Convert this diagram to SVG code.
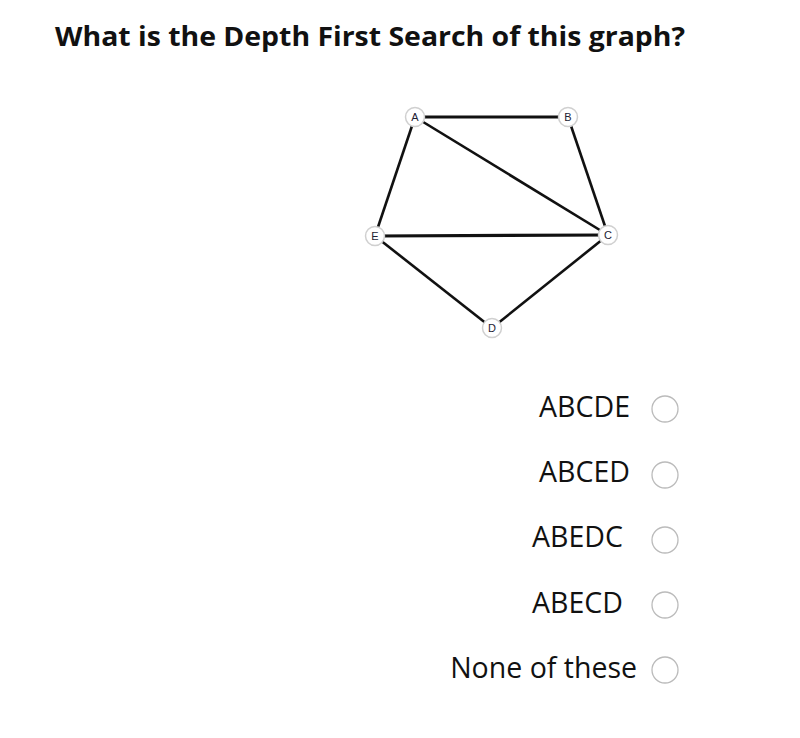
<svg xmlns="http://www.w3.org/2000/svg" width="800" height="738" viewBox="0 0 800 738">
<style>
.title{font-family:"Open Sans","Noto Sans",sans-serif;font-weight:bold;font-size:26px;fill:#111}
.opt{font-family:"Open Sans","Noto Sans",sans-serif;font-size:28.5px;fill:#111;text-anchor:end}
.edge{stroke:#111;stroke-width:2.6;fill:none}
.thick{stroke-width:3.2}
.node circle{fill:#fff;stroke:#d0d0d0;stroke-width:1.5}
.node text{font-family:"Liberation Sans","DejaVu Sans",sans-serif;font-size:11px;fill:#223;text-anchor:middle}
.radio{fill:#fff;stroke:#bbb;stroke-width:1.3}
</style>
<rect width="800" height="738" fill="#fff"/>
<text class="title" x="55" y="46" textLength="630" lengthAdjust="spacingAndGlyphs">What is the Depth First Search of this graph?</text>
<g id="connectors">
<line class="edge thick" x1="415" y1="117" x2="568" y2="117"/>
<line class="edge" x1="415" y1="117" x2="608" y2="235"/>
<line class="edge" x1="415" y1="117" x2="375" y2="236"/>
<line class="edge" x1="568" y1="117" x2="608" y2="235"/>
<line class="edge thick" x1="375" y1="236" x2="608" y2="235"/>
<line class="edge" x1="375" y1="236" x2="492" y2="328"/>
<line class="edge" x1="608" y1="235" x2="492" y2="328"/>
</g>
<g id="node-A" class="node"><circle cx="415" cy="117" r="9.5"/><text x="415" y="121">A</text></g>
<g id="node-B" class="node"><circle cx="568" cy="117" r="9.5"/><text x="568" y="121">B</text></g>
<g id="node-C" class="node"><circle cx="608" cy="235" r="9.5"/><text x="608" y="239">C</text></g>
<g id="node-E" class="node"><circle cx="375" cy="236" r="9.5"/><text x="375" y="240">E</text></g>
<g id="node-D" class="node"><circle cx="492" cy="328" r="9.5"/><text x="492" y="332">D</text></g>
<g id="options">
<text class="opt" x="630" y="417">ABCDE</text>
<circle class="radio" cx="665" cy="409" r="13"/>
<text class="opt" x="630" y="482">ABCED</text>
<circle class="radio" cx="665" cy="475" r="13"/>
<text class="opt" x="623" y="547">ABEDC</text>
<circle class="radio" cx="665" cy="540" r="13"/>
<text class="opt" x="623" y="613">ABECD</text>
<circle class="radio" cx="665" cy="605" r="13"/>
<text class="opt" x="637" y="678">None of these</text>
<circle class="radio" cx="665" cy="670" r="13"/>
</g>
</svg>
